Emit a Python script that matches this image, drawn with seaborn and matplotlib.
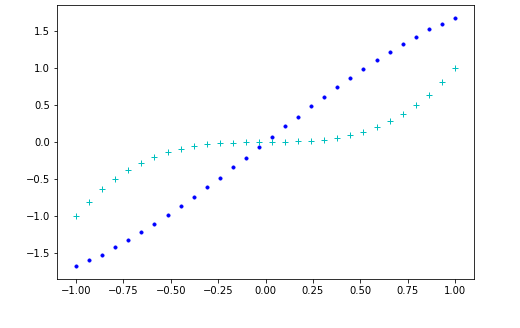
"""
Two sampled curves on [-1, 1]: blue dots and cyan plus markers.
"""

import matplotlib

matplotlib.use("Agg")
import matplotlib.pyplot as plt
import numpy as np
import seaborn as sns

# ----------------------------
# Data
# ----------------------------
X_POS = [0.034, 0.103, 0.172, 0.241, 0.310, 0.379, 0.448, 0.517,
         0.586, 0.655, 0.724, 0.793, 0.862, 0.931, 1.000]
DOTS_POS = [0.07, 0.21, 0.34, 0.48, 0.61, 0.74, 0.87, 0.99,
            1.11, 1.22, 1.32, 1.42, 1.52, 1.60, 1.68]
PLUS_POS = [0.00, 0.00, 0.01, 0.01, 0.03, 0.05, 0.09, 0.14,
            0.20, 0.28, 0.38, 0.50, 0.64, 0.81, 1.00]

# the curves are symmetric about the origin
X = [-v for v in reversed(X_POS)] + X_POS
DOTS = [-v for v in reversed(DOTS_POS)] + DOTS_POS
PLUS = [-v for v in reversed(PLUS_POS)] + PLUS_POS

# ----------------------------
# Figure
# ----------------------------
plt.rcParams["font.family"] = ["DejaVu Sans"]
plt.rcParams["font.size"] = 10

DPI = 72
fig = plt.figure(figsize=(520 / DPI, 328 / DPI), dpi=DPI)
ax = fig.add_axes([57 / 520, 1 - 279 / 328, (474 - 57) / 520, (279 - 5) / 328])

sns.lineplot(x=X, y=DOTS, ax=ax, color="b", linestyle="", marker=".",
             markersize=6.5, markeredgecolor="b", markerfacecolor="b",
             estimator=None, sort=False)
sns.lineplot(x=X, y=PLUS, ax=ax, color="c", linestyle="", marker="+",
             markersize=6.5, markeredgecolor="c", markeredgewidth=1.0,
             estimator=None, sort=False)

ax.set_xlim(-1.1, 1.1)
ax.set_ylim(-1.85, 1.85)
ax.set_xticks(np.arange(-1.0, 1.01, 0.25))
ax.set_yticks(np.arange(-1.5, 1.51, 0.5))

fig.savefig("out.png", dpi=DPI)
plt.close(fig)
